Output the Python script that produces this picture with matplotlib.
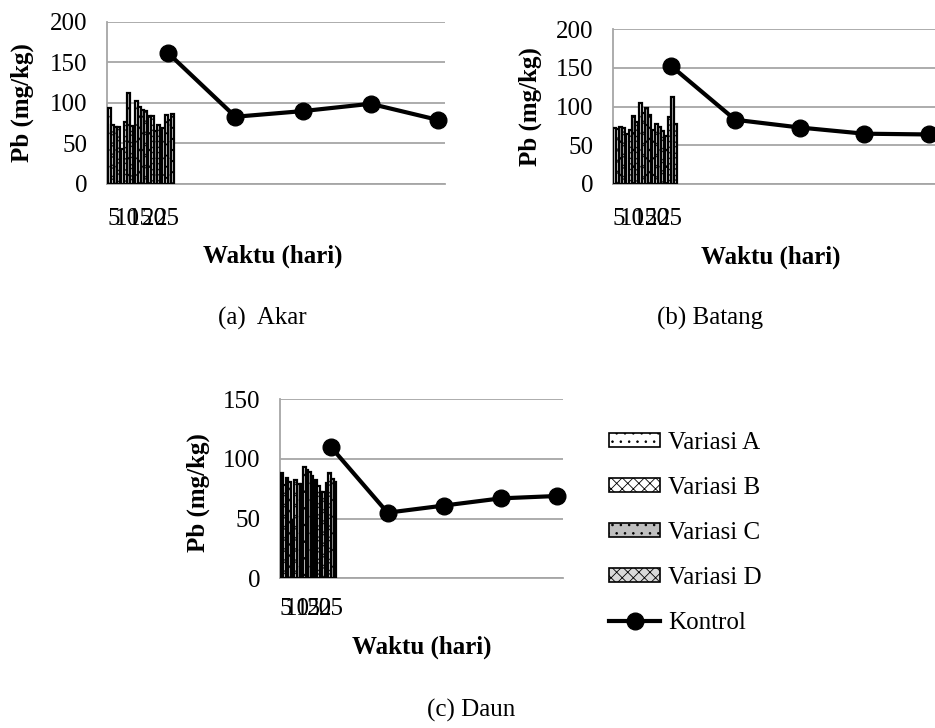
import matplotlib

matplotlib.use("Agg")
import matplotlib.pyplot as plt
import numpy as np
from matplotlib.patches import Patch
from matplotlib.lines import Line2D

plt.rcParams["font.family"] = ["Liberation Serif", "DejaVu Serif"]
plt.rcParams["hatch.linewidth"] = 0.6

DAYS = ["5", "10", "15", "20", "25"]
VARIANTS = ["Variasi A", "Variasi B", "Variasi C", "Variasi D"]

# Akar
akar_a = [94, 43, 102, 84, 69]
akar_b = [73, 76, 95, 84, 85]
akar_c = [70, 112, 91, 66, 79]
akar_d = [70, 71, 90, 73, 87]
akar_kontrol = [162, 83, 90, 99, 79]

# Batang
batang_a = [72, 65, 105, 70, 62]
batang_b = [71, 70, 92, 77, 87]
batang_c = [74, 88, 98, 74, 112]
batang_d = [73, 80, 89, 68, 78]
batang_kontrol = [153, 83, 73, 65, 64]

# Daun
daun_a = [88, 49, 93, 82, 80]
daun_b = [78, 82, 91, 77, 88]
daun_c = [84, 79, 89, 72, 83]
daun_d = [81, 79, 86, 72, 81]
daun_kontrol = [110, 55, 61, 67, 69]

BAR_STYLES = [
    {"facecolor": "white", "hatch": ".."},
    {"facecolor": "white", "hatch": "xxx"},
    {"facecolor": "#bfbfbf", "hatch": ".."},
    {"facecolor": "#d9d9d9", "hatch": "xxx"},
]
GRID = "#a6a6a6"
FS = 18


def draw_panel(ax, series, kontrol, ymax, xtick_pad):
    n = len(DAYS)
    group = 1.0 / n
    width = group * 0.9 / len(series)
    centers = (np.arange(n) + 0.5) * group
    for i, vals in enumerate(series):
        offs = (i - (len(series) - 1) / 2) * width
        ax.bar(centers + offs, vals, width=width, edgecolor="black",
               linewidth=1.6, zorder=3, **BAR_STYLES[i])
    line_x = np.arange(n) + 0.9
    ax.plot(line_x, kontrol, color="black", linewidth=3, marker="o",
            markersize=12, zorder=4, clip_on=False)

    ax.set_xlim(0, 5)
    ax.set_ylim(0, ymax)
    ax.set_yticks(np.arange(0, ymax + 1, 50))
    ax.set_xticks(centers)
    ax.set_xticklabels(DAYS)
    ax.tick_params(axis="both", length=0, labelsize=FS)
    ax.tick_params(axis="y", pad=14)
    ax.tick_params(axis="x", pad=xtick_pad)
    ax.yaxis.grid(True, color=GRID, linewidth=1.3, zorder=0)
    ax.set_axisbelow(True)
    for side in ("top", "right"):
        ax.spines[side].set_visible(False)
    for side in ("left", "bottom"):
        ax.spines[side].set_color(GRID)
        ax.spines[side].set_linewidth(1.3)
    ax.set_ylabel("Pb (mg/kg)", fontsize=FS, fontweight="bold")
    ax.set_xlabel("Waktu (hari)", fontsize=FS, fontweight="bold")
    ax.xaxis.label.set_va("center")
    ax.yaxis.label.set_va("center")


def main():
    fig = plt.figure(figsize=(9.35, 7.28), dpi=100)

    ax1 = fig.add_axes([0.1144, 0.7473, 0.3615, 0.2225])
    draw_panel(ax1, [akar_a, akar_b, akar_c, akar_d], akar_kontrol, 200, 17)
    ax1.yaxis.set_label_coords(-0.251, 0.5)
    ax1.xaxis.set_label_coords(0.49, -0.444)

    ax2 = fig.add_axes([0.6553, 0.7473, 0.3447, 0.2125])
    draw_panel(ax2, [batang_a, batang_b, batang_c, batang_d],
               batang_kontrol, 200, 17)
    ax2.yaxis.set_label_coords(-0.257, 0.5)
    ax2.xaxis.set_label_coords(0.49, -0.472)

    ax3 = fig.add_axes([0.2995, 0.2056, 0.3027, 0.2459])
    draw_panel(ax3, [daun_a, daun_b, daun_c, daun_d], daun_kontrol, 150, 14)
    ax3.yaxis.set_label_coords(-0.29, 0.48)
    ax3.xaxis.set_label_coords(0.5, -0.384)

    fig.text(262 / 935, 1 - 318 / 728, "(a)  Akar", fontsize=FS,
             ha="center", va="center")
    fig.text(710 / 935, 1 - 318 / 728, "(b) Batang", fontsize=FS,
             ha="center", va="center")
    fig.text(471 / 935, 1 - 710 / 728, "(c) Daun", fontsize=FS,
             ha="center", va="center")

    handles = [Patch(edgecolor="black", linewidth=1.2, **st)
               for st in BAR_STYLES]
    handles.append(Line2D([0], [0], color="black", linewidth=3,
                          marker="o", markersize=12))
    fig.legend(handles, VARIANTS + ["Kontrol"], loc="center left",
               bbox_to_anchor=(609 / 935, 1 - 533 / 728), frameon=False,
               fontsize=FS, handlelength=2.05, handleheight=0.5,
               handletextpad=0.3, labelspacing=0.92, borderpad=0,
               borderaxespad=0)

    fig.savefig("out.png", dpi=100)


if __name__ == "__main__":
    main()
